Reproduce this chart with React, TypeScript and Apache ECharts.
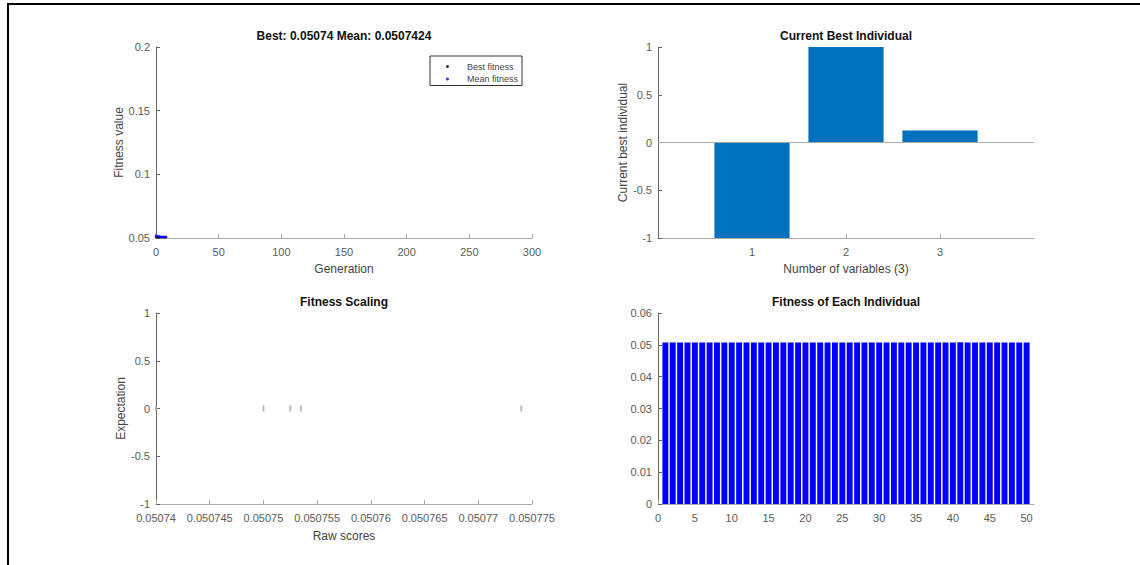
import React, { useEffect, useRef } from "react";
import * as echarts from "echarts";

// Top-left: fitness progress over generations
const generations = [0, 1, 2, 3, 4, 5, 6, 7, 8];
const bestFitness = [0.05074, 0.05074, 0.05074, 0.05074, 0.05074, 0.05074, 0.05074, 0.05074, 0.05074];
const meanFitness = [0.052, 0.0516, 0.0513, 0.0511, 0.0509, 0.0508, 0.05077, 0.05075, 0.0507424];

// Top-right: current best individual
const variableIndex = [1, 2, 3];
const bestIndividual = [-1, 1, 0.126];
const variableTicks = [1, 2, 3];

// Bottom-left: fitness scaling
const rawScores = [0.05074, 0.05075, 0.0507525, 0.0507535, 0.050774];
const expectation = [0, 0, 0, 0, 0];

// Bottom-right: fitness of each individual
const individualIndex = [
  1, 2, 3, 4, 5, 6, 7, 8, 9, 10, 11, 12, 13, 14, 15, 16, 17, 18, 19, 20, 21, 22, 23, 24, 25,
  26, 27, 28, 29, 30, 31, 32, 33, 34, 35, 36, 37, 38, 39, 40, 41, 42, 43, 44, 45, 46, 47, 48, 49, 50,
];
const individualFitness = [
  0.05074, 0.05074, 0.05075, 0.05074, 0.05074, 0.05074, 0.05074, 0.05074, 0.05074, 0.05074,
  0.05074, 0.0507525, 0.05074, 0.05074, 0.05074, 0.05074, 0.05074, 0.05074, 0.05074, 0.05074,
  0.05074, 0.05074, 0.05074, 0.05074, 0.05074, 0.05074, 0.0507535, 0.05074, 0.05074, 0.05074,
  0.05074, 0.05074, 0.05074, 0.05074, 0.05074, 0.05074, 0.05074, 0.05074, 0.05074, 0.05074,
  0.050774, 0.05074, 0.05074, 0.05074, 0.05074, 0.05074, 0.05074, 0.05074, 0.05074, 0.05074,
];
const individualTicks = [0, 5, 10, 15, 20, 25, 30, 35, 40, 45, 50];

const FONT = "Liberation Sans, Arial, Helvetica, sans-serif";
const LABEL_COLOR = "#5a5a5a";
const NAME_COLOR = "#444";
const YLINE = "#666";
const XLINE = "#aaa";

const fmt = (v: number) => String(parseFloat(v.toFixed(8)));

function xAxisBase(gridIndex: number) {
  return {
    gridIndex,
    type: "value" as const,
    axisLine: { show: true, onZero: false, lineStyle: { color: XLINE, width: 1 } },
    axisTick: { show: true, inside: true, length: 4, lineStyle: { color: XLINE } },
    axisLabel: { color: LABEL_COLOR, fontSize: 11, fontFamily: FONT, margin: 8, formatter: fmt },
    splitLine: { show: false },
    nameLocation: "middle" as const,
    nameTextStyle: { color: NAME_COLOR, fontSize: 12, fontFamily: FONT },
  };
}

function yAxisBase(gridIndex: number) {
  return {
    gridIndex,
    type: "value" as const,
    axisLine: { show: true, onZero: false, lineStyle: { color: YLINE, width: 1 } },
    axisTick: { show: true, inside: true, length: 4, lineStyle: { color: YLINE } },
    axisLabel: { color: LABEL_COLOR, fontSize: 11, fontFamily: FONT, margin: 6, formatter: fmt },
    splitLine: { show: false },
    nameLocation: "middle" as const,
    nameTextStyle: { color: NAME_COLOR, fontSize: 12, fontFamily: FONT },
  };
}

const titleStyle = { color: "#111", fontSize: 12, fontWeight: "bold" as const, fontFamily: FONT };

export default function App() {
  const ref = useRef<HTMLDivElement>(null);

  useEffect(() => {
    if (!ref.current) return;
    const chart = echarts.init(ref.current, undefined, { renderer: "svg" });
    const option: any = {
      animation: false,
      backgroundColor: "#fff",
      textStyle: { fontFamily: FONT },
      title: [
        { text: "Best: 0.05074 Mean: 0.0507424", left: 344, top: 30, textAlign: "center", padding: 0, textStyle: titleStyle },
        { text: "Current Best Individual", left: 846, top: 30, textAlign: "center", padding: 0, textStyle: titleStyle },
        { text: "Fitness Scaling", left: 344, top: 296, textAlign: "center", padding: 0, textStyle: titleStyle },
        { text: "Fitness of Each Individual", left: 846, top: 296, textAlign: "center", padding: 0, textStyle: titleStyle },
      ],
      legend: {
        data: ["Best fitness", "Mean fitness"],
        orient: "vertical",
        left: 430,
        top: 56,
        padding: [5, 4, 1, 16],
        itemGap: 1.5,
        itemWidth: 3,
        itemHeight: 3,
        icon: "circle",
        borderColor: "#333",
        borderWidth: 1,
        backgroundColor: "#fff",
        textStyle: { fontSize: 9, fontFamily: FONT, color: "#444", lineHeight: 11, padding: [0, 0, 0, 13] },
      },
      grid: [
        { left: 156, top: 47, width: 376, height: 191 },
        { left: 658, top: 47, width: 376, height: 191 },
        { left: 156, top: 313, width: 376, height: 191 },
        { left: 658, top: 313, width: 376, height: 191 },
      ],
      xAxis: [
        { ...xAxisBase(0), min: 0, max: 300, interval: 50, name: "Generation", nameGap: 25 },
        {
          ...xAxisBase(1),
          min: 0,
          max: 4,
          interval: 1,
          name: "Number of variables (3)",
          nameGap: 25,
          axisLabel: { ...xAxisBase(1).axisLabel, customValues: variableTicks },
          axisTick: { ...xAxisBase(1).axisTick, customValues: variableTicks },
        },
        { ...xAxisBase(2), min: 0.05074, max: 0.050775, interval: 0.000005, name: "Raw scores", nameGap: 26 },
        {
          ...xAxisBase(3),
          min: 0,
          max: 51,
          interval: 5,
          axisLabel: { ...xAxisBase(3).axisLabel, customValues: individualTicks },
          axisTick: { ...xAxisBase(3).axisTick, customValues: individualTicks },
        },
      ],
      yAxis: [
        { ...yAxisBase(0), min: 0.05, max: 0.2, interval: 0.05, name: "Fitness value", nameGap: 30 },
        { ...yAxisBase(1), min: -1, max: 1, interval: 0.5, name: "Current best individual", nameGap: 29 },
        { ...yAxisBase(2), min: -1, max: 1, interval: 0.5, name: "Expectation", nameGap: 28 },
        { ...yAxisBase(3), min: 0, max: 0.06, interval: 0.01 },
      ],
      graphic: [
        {
          type: "polyline",
          silent: true,
          shape: { points: [[8, 565], [8, 4], [1140, 4]] },
          style: { stroke: "#000", lineWidth: 2, fill: "none" },
          z: 100,
        },
      ],
      series: [
        {
          name: "Best fitness",
          type: "scatter",
          xAxisIndex: 0,
          yAxisIndex: 0,
          symbol: "circle",
          symbolSize: 2.5,
          itemStyle: { color: "#000" },
          data: generations.map((g, i) => [g, bestFitness[i]]),
        },
        {
          name: "Mean fitness",
          type: "scatter",
          xAxisIndex: 0,
          yAxisIndex: 0,
          symbol: "circle",
          symbolSize: 2.5,
          itemStyle: { color: "#0000ff" },
          data: generations.map((g, i) => [g, meanFitness[i]]),
        },
        {
          name: "Current best individual",
          type: "bar",
          xAxisIndex: 1,
          yAxisIndex: 1,
          barWidth: "80%",
          itemStyle: { color: "#0072BD" },
          data: variableIndex.map((v, i) => [v, bestIndividual[i]]),
          markLine: {
            silent: true,
            symbol: "none",
            label: { show: false },
            lineStyle: { color: "#aaa", width: 1, type: "solid" },
            data: [{ yAxis: 0 }],
          },
        },
        {
          name: "Expectation",
          type: "scatter",
          xAxisIndex: 2,
          yAxisIndex: 2,
          symbol: "rect",
          symbolSize: [2, 6],
          itemStyle: { color: "#aaa" },
          data: rawScores.map((s, i) => [s, expectation[i]]),
        },
        {
          name: "Fitness",
          type: "bar",
          xAxisIndex: 3,
          yAxisIndex: 3,
          barWidth: "80%",
          itemStyle: { color: "#0000ff" },
          data: individualIndex.map((v, i) => [v, individualFitness[i]]),
        },
      ],
    };
    chart.setOption(option);
    return () => chart.dispose();
  }, []);

  return (
    <div
      ref={ref}
      style={{ position: "absolute", left: 0, top: 0, width: 1140, height: 565, background: "#fff" }}
    />
  );
}
